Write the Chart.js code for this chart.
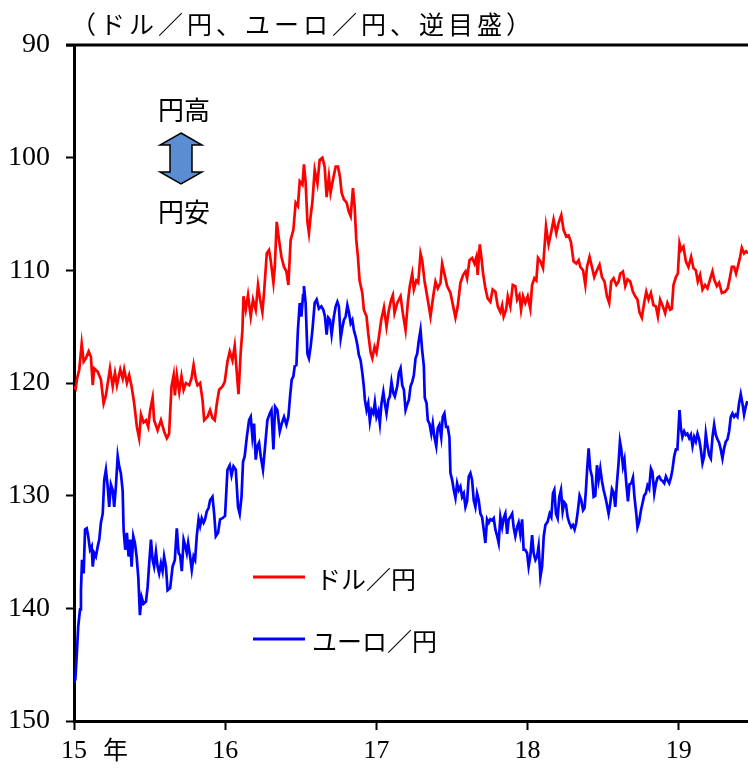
<!DOCTYPE html>
<html>
<head>
<meta charset="utf-8">
<script src="https://cdn.jsdelivr.net/npm/chart.js@4.4.1/dist/chart.umd.min.js"></script>
<style>
  html, body { margin: 0; padding: 0; background: #fff; }
  #wrap { width: 748px; height: 771px; }
</style>
</head>
<body>
<div id="wrap"><canvas id="fxChart" width="748" height="771"></canvas></div>
<script>
// 横軸は 2015年1月からの経過年数
const yearLabels = ['15', '16', '17', '18', '19'];

// ドル／円
const usdT = [0.000, 0.011, 0.020, 0.035, 0.051, 0.064, 0.079, 0.097, 0.112, 0.124, 0.134, 0.157, 0.178, 0.196, 0.211, 0.238, 0.256, 0.271, 0.284, 0.306,
  0.322, 0.332, 0.350, 0.365, 0.381, 0.398, 0.416, 0.431, 0.443, 0.460, 0.476, 0.491, 0.504, 0.520, 0.530, 0.553, 0.575, 0.596, 0.614, 0.629,
  0.645, 0.659, 0.667, 0.680, 0.696, 0.711, 0.725, 0.740, 0.762, 0.777, 0.791, 0.806, 0.817, 0.834, 0.850, 0.861, 0.883, 0.900, 0.916, 0.931,
  0.945, 0.960, 0.982, 0.997, 1.015, 1.030, 1.048, 1.063, 1.077, 1.088, 1.103, 1.114, 1.121, 1.136, 1.151, 1.169, 1.184, 1.202, 1.217, 1.231,
  1.246, 1.257, 1.275, 1.290, 1.301, 1.319, 1.328, 1.341, 1.356, 1.372, 1.389, 1.405, 1.418, 1.433, 1.451, 1.466, 1.481, 1.493, 1.511, 1.521,
  1.532, 1.544, 1.554, 1.565, 1.577, 1.592, 1.610, 1.625, 1.643, 1.658, 1.671, 1.686, 1.697, 1.715, 1.731, 1.746, 1.759, 1.770, 1.785, 1.803,
  1.818, 1.830, 1.845, 1.856, 1.867, 1.878, 1.889, 1.907, 1.917, 1.935, 1.946, 1.962, 1.973, 1.988, 2.001, 2.017, 2.032, 2.050, 2.067, 2.083,
  2.098, 2.109, 2.120, 2.138, 2.160, 2.175, 2.193, 2.208, 2.221, 2.237, 2.248, 2.264, 2.277, 2.292, 2.303, 2.318, 2.336, 2.358, 2.376, 2.391,
  2.406, 2.424, 2.435, 2.450, 2.468, 2.490, 2.508, 2.523, 2.538, 2.556, 2.574, 2.589, 2.600, 2.616, 2.633, 2.649, 2.662, 2.670, 2.684, 2.695,
  2.706, 2.721, 2.736, 2.754, 2.769, 2.787, 2.803, 2.820, 2.832, 2.842, 2.858, 2.869, 2.886, 2.902, 2.919, 2.931, 2.946, 2.957, 2.970, 2.985,
  3.001, 3.018, 3.030, 3.045, 3.058, 3.069, 3.085, 3.102, 3.122, 3.139, 3.155, 3.172, 3.190, 3.205, 3.223, 3.238, 3.256, 3.271, 3.287, 3.304,
  3.322, 3.338, 3.349, 3.367, 3.382, 3.393, 3.410, 3.426, 3.441, 3.459, 3.476, 3.492, 3.509, 3.525, 3.540, 3.553, 3.569, 3.587, 3.602, 3.613,
  3.631, 3.646, 3.661, 3.679, 3.697, 3.712, 3.727, 3.740, 3.756, 3.771, 3.785, 3.800, 3.816, 3.833, 3.849, 3.862, 3.877, 3.895, 3.910, 3.925,
  3.943, 3.954, 3.965, 3.981, 3.994, 4.005, 4.016, 4.031, 4.047, 4.064, 4.082, 4.097, 4.113, 4.126, 4.141, 4.157, 4.174, 4.190, 4.207, 4.223,
  4.234, 4.252, 4.267, 4.285, 4.306, 4.324, 4.339, 4.351, 4.366, 4.379, 4.394, 4.406, 4.417, 4.432, 4.445, 4.458];
const usdV = [120.3, 120.5, 119.6, 118.8, 116.5, 118.1, 117.8, 117.2, 117.7, 120.2, 118.7, 119.0, 119.7, 121.8, 121.1, 118.7, 120.3, 119.1, 120.2, 118.8,
  119.6, 118.8, 120.0, 119.3, 120.3, 121.8, 123.9, 124.9, 122.8, 123.5, 123.3, 123.9, 122.4, 121.3, 123.3, 124.2, 123.3, 124.3, 124.9, 124.5,
  120.3, 119.3, 121.1, 119.3, 120.8, 119.4, 120.6, 120.0, 120.2, 119.6, 118.4, 119.7, 120.2, 120.0, 121.5, 123.3, 123.0, 122.4, 123.1, 123.3,
  121.8, 120.6, 120.3, 119.9, 118.1, 117.2, 118.0, 116.7, 119.1, 121.0, 117.2, 115.3, 112.3, 113.5, 112.2, 114.1, 112.6, 113.5, 111.3, 112.6,
  113.7, 112.0, 108.5, 108.2, 109.1, 111.1, 109.7, 105.7, 107.3, 108.8, 109.7, 110.1, 111.3, 107.3, 106.4, 104.0, 104.3, 102.1, 102.4, 100.6,
  102.2, 105.7, 106.7, 105.2, 103.9, 101.1, 102.3, 100.2, 100.0, 100.8, 103.5, 101.7, 103.1, 101.8, 100.8, 100.8, 101.7, 103.1, 103.7, 104.0,
  104.8, 105.2, 102.7, 104.3, 107.3, 108.8, 110.9, 112.0, 113.5, 114.1, 115.6, 117.3, 117.8, 116.8, 117.3, 115.9, 114.4, 113.3, 115.0, 113.5,
  112.6, 112.2, 113.8, 112.9, 112.3, 113.8, 115.3, 112.9, 111.4, 110.3, 111.7, 110.9, 111.1, 108.5, 109.1, 110.9, 112.3, 114.1, 112.3, 111.0,
  111.6, 111.1, 109.4, 110.3, 111.4, 112.0, 113.2, 114.2, 113.2, 111.1, 110.4, 110.1, 110.7, 109.1, 108.9, 109.4, 108.8, 110.4, 107.7, 108.9,
  110.3, 111.6, 112.5, 112.8, 111.7, 111.9, 113.2, 113.7, 113.1, 114.1, 113.5, 112.3, 113.2, 111.3, 111.4, 112.6, 112.2, 113.5, 112.3, 112.9,
  112.3, 113.4, 111.3, 110.7, 110.9, 108.9, 109.2, 109.8, 106.1, 107.7, 106.7, 105.5, 106.7, 105.8, 105.1, 106.4, 107.0, 106.9, 107.5, 109.2,
  109.4, 109.1, 109.7, 110.0, 111.3, 109.7, 108.8, 109.7, 110.6, 110.0, 109.5, 110.6, 111.0, 112.3, 112.9, 111.0, 110.7, 111.3, 111.0, 110.3,
  110.1, 111.4, 110.8, 111.0, 111.9, 112.3, 112.6, 113.7, 114.2, 112.9, 111.9, 112.6, 112.0, 113.1, 113.2, 114.1, 112.6, 113.2, 113.8, 112.9,
  113.5, 113.4, 111.3, 110.6, 110.3, 107.6, 108.2, 107.9, 109.2, 109.7, 108.8, 109.8, 110.0, 111.0, 110.4, 111.7, 111.3, 111.6, 110.8, 110.1,
  110.8, 111.4, 111.1, 112.0, 111.9, 111.6, 110.6, 109.7, 109.7, 110.3, 109.5, 108.8, 108.0, 108.5, 108.3, 108.5];

// ユーロ／円
const eurT = [0.000, 0.009, 0.020, 0.028, 0.040, 0.046, 0.053, 0.064, 0.073, 0.084, 0.094, 0.106, 0.117, 0.124, 0.134, 0.145, 0.157, 0.167, 0.178, 0.190,
  0.200, 0.211, 0.223, 0.233, 0.244, 0.256, 0.266, 0.277, 0.289, 0.299, 0.310, 0.322, 0.328, 0.339, 0.350, 0.361, 0.372, 0.381, 0.392, 0.403,
  0.414, 0.425, 0.436, 0.447, 0.460, 0.476, 0.487, 0.497, 0.509, 0.520, 0.530, 0.542, 0.553, 0.563, 0.575, 0.586, 0.596, 0.608, 0.619, 0.636,
  0.652, 0.667, 0.680, 0.692, 0.702, 0.713, 0.725, 0.735, 0.746, 0.755, 0.768, 0.779, 0.791, 0.801, 0.812, 0.824, 0.834, 0.845, 0.857, 0.867,
  0.878, 0.890, 0.900, 0.916, 0.927, 0.938, 0.953, 0.966, 0.982, 0.999, 1.015, 1.030, 1.042, 1.055, 1.070, 1.085, 1.096, 1.108, 1.118, 1.129,
  1.143, 1.158, 1.169, 1.180, 1.191, 1.202, 1.213, 1.224, 1.235, 1.250, 1.264, 1.279, 1.295, 1.306, 1.319, 1.330, 1.345, 1.361, 1.374, 1.389,
  1.405, 1.418, 1.429, 1.440, 1.451, 1.460, 1.471, 1.481, 1.493, 1.504, 1.515, 1.521, 1.532, 1.544, 1.554, 1.565, 1.577, 1.592, 1.605, 1.620,
  1.636, 1.649, 1.660, 1.671, 1.682, 1.693, 1.704, 1.719, 1.731, 1.742, 1.752, 1.764, 1.775, 1.785, 1.797, 1.808, 1.818, 1.830, 1.841, 1.851,
  1.863, 1.874, 1.884, 1.896, 1.907, 1.917, 1.924, 1.935, 1.946, 1.957, 1.968, 1.980, 1.990, 2.001, 2.013, 2.023, 2.034, 2.046, 2.056, 2.067,
  2.079, 2.089, 2.100, 2.112, 2.122, 2.138, 2.149, 2.160, 2.171, 2.182, 2.193, 2.204, 2.215, 2.226, 2.237, 2.248, 2.259, 2.270, 2.281, 2.292,
  2.303, 2.314, 2.320, 2.332, 2.340, 2.351, 2.363, 2.373, 2.384, 2.396, 2.406, 2.417, 2.429, 2.439, 2.450, 2.461, 2.472, 2.483, 2.490, 2.501,
  2.512, 2.523, 2.534, 2.545, 2.556, 2.567, 2.578, 2.589, 2.600, 2.611, 2.622, 2.633, 2.644, 2.655, 2.666, 2.677, 2.688, 2.699, 2.710, 2.721,
  2.732, 2.743, 2.754, 2.765, 2.776, 2.787, 2.799, 2.809, 2.820, 2.832, 2.842, 2.853, 2.865, 2.875, 2.886, 2.898, 2.908, 2.919, 2.931, 2.941,
  2.952, 2.964, 2.974, 2.985, 2.997, 3.007, 3.018, 3.030, 3.040, 3.052, 3.063, 3.073, 3.085, 3.096, 3.107, 3.118, 3.133, 3.146, 3.157, 3.168,
  3.177, 3.188, 3.199, 3.210, 3.221, 3.232, 3.243, 3.254, 3.265, 3.276, 3.289, 3.300, 3.311, 3.322, 3.333, 3.344, 3.355, 3.367, 3.377, 3.386,
  3.393, 3.404, 3.415, 3.426, 3.437, 3.448, 3.459, 3.470, 3.481, 3.492, 3.503, 3.514, 3.525, 3.536, 3.547, 3.558, 3.569, 3.580, 3.591, 3.602,
  3.611, 3.620, 3.631, 3.641, 3.653, 3.664, 3.674, 3.686, 3.697, 3.707, 3.719, 3.727, 3.738, 3.750, 3.760, 3.771, 3.782, 3.793, 3.804, 3.816,
  3.826, 3.838, 3.849, 3.860, 3.871, 3.882, 3.892, 3.904, 3.915, 3.925, 3.937, 3.948, 3.958, 3.970, 3.981, 3.991, 4.005, 4.014, 4.024, 4.036,
  4.047, 4.057, 4.069, 4.080, 4.091, 4.102, 4.113, 4.124, 4.135, 4.146, 4.157, 4.168, 4.179, 4.190, 4.201, 4.212, 4.223, 4.234, 4.245, 4.256,
  4.267, 4.278, 4.289, 4.300, 4.311, 4.322, 4.333, 4.344, 4.355, 4.366, 4.377, 4.388, 4.399, 4.410, 4.421, 4.432, 4.443, 4.454];
const eurV = [146.6, 146.3, 143.7, 141.6, 140.1, 138.4, 135.7, 136.9, 133.0, 132.9, 133.6, 134.8, 134.5, 136.3, 135.1, 135.4, 134.5, 133.9, 132.4, 131.6,
  128.6, 127.7, 129.2, 131.0, 129.0, 129.5, 131.0, 129.2, 126.5, 127.4, 128.0, 129.6, 133.0, 134.8, 133.3, 135.4, 133.9, 136.3, 133.6, 134.2,
  135.4, 137.2, 140.6, 139.0, 139.6, 139.4, 138.1, 136.1, 133.9, 135.7, 136.3, 135.0, 136.3, 136.9, 136.0, 136.7, 135.4, 136.3, 138.4, 138.2,
  136.3, 135.7, 132.9, 135.1, 135.3, 136.7, 133.9, 134.4, 135.1, 134.2, 135.4, 136.6, 135.4, 135.7, 133.6, 132.1, 132.7, 132.0, 132.4, 132.1,
  131.4, 131.1, 130.4, 130.1, 131.6, 133.6, 133.3, 132.1, 132.0, 131.8, 127.7, 127.3, 128.2, 127.4, 127.7, 131.0, 131.6, 130.1, 127.0, 126.5,
  124.8, 123.3, 123.0, 124.8, 123.6, 126.8, 125.6, 125.3, 126.5, 127.7, 125.6, 123.3, 122.7, 122.4, 125.9, 122.1, 122.4, 124.3, 123.6, 123.0,
  123.7, 123.0, 121.2, 119.7, 119.4, 118.5, 118.4, 115.3, 112.9, 114.1, 112.2, 111.4, 112.9, 117.4, 117.8, 116.8, 115.3, 112.9, 112.6, 113.4,
  113.2, 113.5, 114.1, 115.7, 114.2, 114.4, 115.7, 114.1, 113.2, 112.8, 113.2, 116.0, 115.1, 114.4, 114.1, 113.1, 113.7, 114.7, 114.4, 115.3,
  115.9, 116.6, 117.5, 118.0, 119.1, 120.3, 121.5, 122.4, 121.8, 123.4, 122.4, 122.7, 121.7, 123.0, 122.5, 123.6, 121.8, 120.8, 121.8, 122.7,
  121.5, 121.2, 119.9, 120.9, 121.2, 120.3, 119.1, 118.7, 120.2, 120.6, 122.4, 121.9, 121.5, 120.3, 119.9, 119.3, 117.8, 117.4, 116.2, 115.3,
  117.1, 118.5, 121.3, 121.8, 123.3, 123.6, 124.5, 123.6, 124.8, 125.6, 124.0, 123.7, 124.8, 123.0, 122.7, 123.9, 123.9, 124.8, 128.0, 128.6,
  129.5, 130.2, 128.9, 129.5, 129.2, 130.1, 129.8, 131.0, 130.5, 128.3, 128.0, 128.6, 130.4, 131.0, 129.8, 130.4, 131.6, 131.9, 133.0, 134.2,
  132.1, 132.4, 132.1, 132.2, 132.0, 133.0, 133.6, 134.2, 131.9, 132.8, 132.0, 131.6, 133.4, 132.1, 131.9, 131.6, 132.8, 133.6, 132.8, 132.4,
  133.4, 132.1, 134.8, 134.8, 135.1, 136.3, 135.4, 133.5, 135.1, 135.7, 135.4, 134.5, 137.2, 136.3, 133.6, 132.6, 132.3, 131.6, 131.9, 129.8,
  129.5, 131.6, 132.0, 130.1, 129.5, 131.4, 130.6, 130.8, 131.9, 132.4, 132.8, 132.6, 133.0, 132.4, 131.3, 130.0, 130.4, 131.3, 131.1, 129.5,
  127.9, 125.8, 127.7, 128.3, 130.1, 130.0, 127.3, 128.6, 127.6, 128.7, 129.5, 130.1, 130.8, 131.6, 130.7, 129.4, 129.7, 131.0, 128.9, 127.1,
  125.2, 125.9, 127.4, 126.8, 128.9, 130.5, 129.0, 128.9, 128.4, 130.1, 131.6, 132.8, 132.3, 131.3, 130.7, 130.0, 129.8, 129.1, 129.4, 127.6,
  127.9, 129.8, 128.9, 128.4, 128.3, 128.6, 128.7, 128.9, 128.3, 128.6, 128.9, 128.4, 127.7, 126.5, 125.9, 125.9, 122.4, 124.0, 124.8, 124.3,
  124.6, 124.5, 124.9, 124.6, 125.6, 124.8, 125.2, 124.5, 125.0, 125.9, 127.1, 126.5, 124.5, 125.6, 126.4, 126.7, 124.8, 123.7, 124.6, 125.0,
  125.3, 125.9, 126.7, 125.8, 125.2, 125.0, 124.3, 123.0, 122.7, 123.0, 122.8, 123.0, 121.8, 121.0, 121.8, 122.8, 122.1, 121.6];

const toPoints = (ts, vs) => ts.map((t, i) => ({ x: t, y: vs[i] }));

const jpFont = '"Noto Sans CJK JP", sans-serif';
const numFont = '"Liberation Serif", "Times New Roman", serif';

// タイトル、円高・円安の矢印、凡例、「年」を描く
const decoPlugin = {
  id: 'deco',
  afterDraw(chart) {
    const ctx = chart.ctx;
    const a = chart.chartArea;
    ctx.save();

    // 上枠
    ctx.strokeStyle = '#000';
    ctx.lineWidth = 3;
    ctx.beginPath();
    ctx.moveTo(a.left - 8, a.top);
    ctx.lineTo(a.right, a.top);
    ctx.stroke();

    ctx.fillStyle = '#000';
    ctx.textBaseline = 'middle';
    ctx.textAlign = 'left';
    ctx.font = '25px ' + jpFont;
    ctx.letterSpacing = '4px';
    ctx.fillText('（ドル／円、ユーロ／円、逆目盛）', 71, 24);
    ctx.letterSpacing = '0px';

    ctx.font = '26px ' + jpFont;
    ctx.fillText('円高', 158, 110);
    ctx.fillText('円安', 158, 212);

    // 両矢印
    const cx = 181, t = 133, b = 184, hw = 21, sw = 11, hh = 12;
    ctx.beginPath();
    ctx.moveTo(cx, t);
    ctx.lineTo(cx + hw, t + hh);
    ctx.lineTo(cx + sw, t + hh);
    ctx.lineTo(cx + sw, b - hh);
    ctx.lineTo(cx + hw, b - hh);
    ctx.lineTo(cx, b);
    ctx.lineTo(cx - hw, b - hh);
    ctx.lineTo(cx - sw, b - hh);
    ctx.lineTo(cx - sw, t + hh);
    ctx.lineTo(cx - hw, t + hh);
    ctx.closePath();
    ctx.fillStyle = '#5B8DD3';
    ctx.fill();
    ctx.lineWidth = 1.5;
    ctx.strokeStyle = '#000';
    ctx.stroke();

    // 凡例
    chart.data.datasets.forEach((ds, i) => {
      const ly = [577, 639][i];
      ctx.strokeStyle = ds.borderColor;
      ctx.lineWidth = 3;
      ctx.beginPath();
      ctx.moveTo(253, ly);
      ctx.lineTo(305, ly);
      ctx.stroke();
      ctx.fillStyle = '#000';
      ctx.font = '25px ' + jpFont;
      ctx.fillText(ds.label, [316, 312][i], ly + 2);
    });

    // 「15 年」の年
    const xs = chart.scales.x;
    ctx.font = '25px ' + jpFont;
    ctx.fillText('年', xs.getPixelForValue(0) + 29, 749);

    ctx.restore();
  }
};

new Chart(document.getElementById('fxChart'), {
  type: 'line',
  data: {
    datasets: [
      {
        label: 'ドル／円',
        data: toPoints(usdT, usdV),
        borderColor: '#FF0000',
        borderWidth: 2.7,
        pointRadius: 0,
        tension: 0
      },
      {
        label: 'ユーロ／円',
        data: toPoints(eurT, eurV),
        borderColor: '#0000FF',
        borderWidth: 2.7,
        pointRadius: 0,
        tension: 0
      }
    ]
  },
  options: {
    responsive: false,
    animation: false,
    devicePixelRatio: 1,
    layout: { padding: { top: 45, right: 0, left: 0, bottom: 0 } },
    plugins: {
      legend: { display: false },
      tooltip: { enabled: false }
    },
    scales: {
      x: {
        type: 'linear',
        min: 0,
        max: 4.458,
        border: { color: '#000', width: 3 },
        grid: { drawOnChartArea: false, tickLength: 9, tickWidth: 2, tickColor: '#000' },
        ticks: {
          stepSize: 1,
          includeBounds: false,
          maxRotation: 0,
          color: '#000',
          padding: 6,
          font: { family: numFont, size: 26 },
          callback: (v) => yearLabels[Math.round(v)]
        },
        afterFit: (s) => { s.height = 50; }
      },
      y: {
        reverse: true,
        min: 90,
        max: 150,
        border: { color: '#000', width: 3 },
        grid: { drawOnChartArea: false, tickLength: 8, tickWidth: 2, tickColor: '#000' },
        ticks: {
          stepSize: 10,
          color: '#000',
          padding: 16,
          font: { family: numFont, size: 28 }
        },
        afterFit: (s) => { s.width = 74; }
      }
    }
  },
  plugins: [decoPlugin]
});
</script>
</body>
</html>
